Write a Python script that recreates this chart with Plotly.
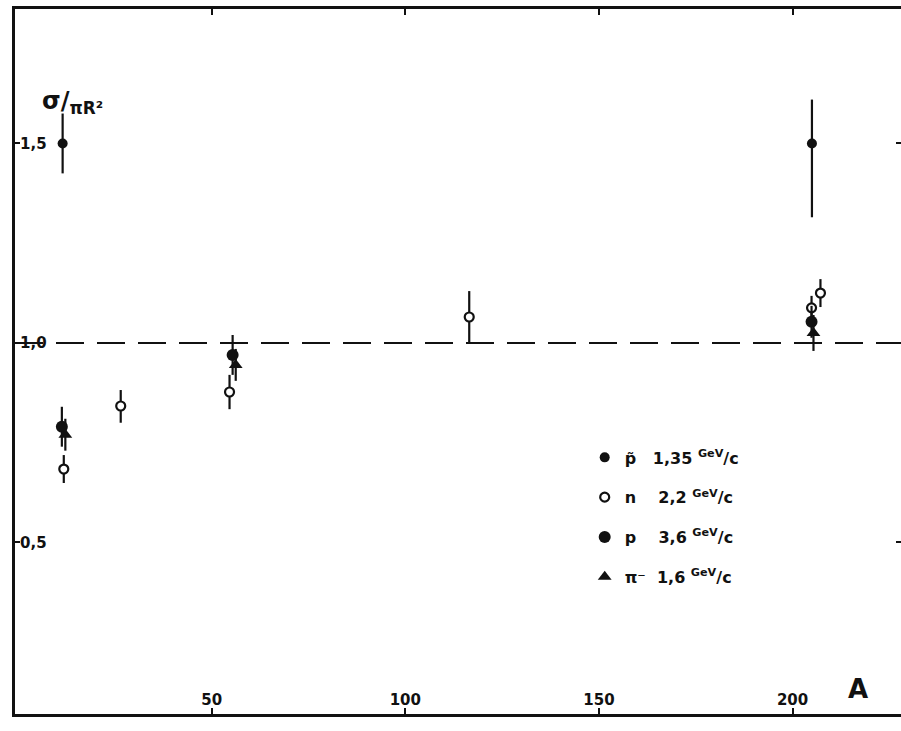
import plotly.graph_objects as go

# ---- data ----
pbar_A = [11.5, 205.0]
pbar_y = [1.50, 1.50]
pbar_ep = [0.075, 0.11]
pbar_em = [0.075, 0.185]

n_A = [11.8, 26.5, 54.6, 116.5, 204.9, 207.2]
n_y = [0.684, 0.842, 0.877, 1.065, 1.088, 1.125]
n_ep = [0.035, 0.040, 0.043, 0.065, 0.030, 0.035]
n_em = [0.035, 0.042, 0.043, 0.065, 0.030, 0.035]

p_A = [11.3, 55.4, 204.9]
p_y = [0.790, 0.970, 1.053]
p_e = [0.050, 0.050, 0.040]

pi_A = [12.2, 56.2, 205.4]
pi_y = [0.770, 0.945, 1.025]
pi_e = [0.040, 0.040, 0.045]

x_ticks = [50, 100, 150, 200]
y_ticks = [0.5, 1.0, 1.5]
y_ticktext = ["0,5", "1,0", "1,5"]

legend_names = [
    "p\u0303&nbsp;&nbsp;&nbsp;1,35 <sup>GeV</sup>/c",
    "n&nbsp;&nbsp;&nbsp;&nbsp;2,2 <sup>GeV</sup>/c",
    "p&nbsp;&nbsp;&nbsp;&nbsp;3,6 <sup>GeV</sup>/c",
    "\u03c0\u207b&nbsp;&nbsp;1,6 <sup>GeV</sup>/c",
]

FONT = "DejaVu Sans"
black = "#111111"

fig = go.Figure()

def eb(plus, minus=None):
    d = dict(type="data", array=plus, color=black, thickness=2.2, width=0, visible=True)
    if minus is not None:
        d["symmetric"] = False
        d["arrayminus"] = minus
    return d

fig.add_trace(go.Scatter(
    x=pbar_A, y=pbar_y, mode="markers", name=legend_names[0], legendgroup="a",
    marker=dict(symbol="circle", size=10, color=black),
    error_y=eb(pbar_ep, pbar_em)))
fig.add_trace(go.Scatter(
    x=n_A, y=n_y, mode="markers", name=legend_names[1], legendgroup="b",
    marker=dict(symbol="circle", size=9, color="white", line=dict(color=black, width=2.2)),
    error_y=eb(n_ep, n_em)))
fig.add_trace(go.Scatter(
    x=p_A, y=p_y, mode="markers", name=legend_names[2], legendgroup="c",
    marker=dict(symbol="circle", size=12, color=black),
    error_y=eb(p_e)))
fig.add_trace(go.Scatter(
    x=pi_A, y=pi_y, mode="markers", name=legend_names[3], legendgroup="d",
    marker=dict(symbol="triangle-up", size=12, color=black),
    error_y=eb(pi_e)))

# invisible trace to carry the right-hand tick axis
fig.add_trace(go.Scatter(x=[0], y=[1.0], yaxis="y2", mode="markers",
                         marker=dict(opacity=0), showlegend=False, hoverinfo="skip"))

xr = [-0.8, 228.0]
yr = [0.070, 1.837]

fig.add_shape(type="line", xref="x", yref="y", x0=xr[0], x1=xr[1], y0=1.0, y1=1.0,
              line=dict(color=black, width=2, dash="28px,13px"), layer="below")

fig.update_layout(
    width=901, height=731,
    margin=dict(l=15, r=0, t=9, b=17, autoexpand=False),
    paper_bgcolor="white", plot_bgcolor="white",
    font=dict(family=FONT, color=black, size=15),
    showlegend=True,
    legend=dict(x=0.643, y=0.388, xanchor="left", yanchor="top",
                bgcolor="rgba(0,0,0,0)",
                font=dict(size=16, family=FONT, color=black, weight="bold"),
                tracegroupgap=16, itemwidth=30),
    xaxis=dict(range=xr, tickvals=x_ticks, ticks="inside", ticklen=6, tickwidth=2,
               tickcolor=black, showline=True, linecolor=black, linewidth=3,
               mirror="ticks", showgrid=False, zeroline=False, automargin=False,
               ticklabelposition="inside",
               tickfont=dict(size=15, family=FONT, color=black, weight="bold")),
    yaxis=dict(range=yr, tickvals=y_ticks, ticktext=y_ticktext, ticks="inside",
               ticklen=5, tickwidth=2, tickcolor=black, showline=True,
               linecolor=black, linewidth=3, mirror=False, showgrid=False,
               zeroline=False, automargin=False, ticklabelposition="inside",
               tickfont=dict(size=15, family=FONT, color=black, weight="bold")),
    yaxis2=dict(range=yr, overlaying="y", side="right", tickvals=y_ticks,
                showticklabels=False, ticks="inside", ticklen=5, tickwidth=2,
                tickcolor=black, showline=False, showgrid=False, zeroline=False,
                automargin=False),
)

fig.add_annotation(xref="paper", yref="paper", x=0.952, y=0.035, text="<b>A</b>",
                   showarrow=False, font=dict(size=26, family=FONT, color=black),
                   xanchor="center", yanchor="middle")
fig.add_annotation(xref="paper", yref="paper", x=0.028, y=0.868,
                   text="<b>\u03c3/<sub>\u03c0R\u00b2</sub></b>",
                   showarrow=False, font=dict(size=24, family=FONT, color=black),
                   xanchor="left", yanchor="middle")

fig.write_html(
    "out.html",
    config={"displayModeBar": False},
    post_script="document.body.style.margin='0';document.body.style.overflow='hidden';",
)
